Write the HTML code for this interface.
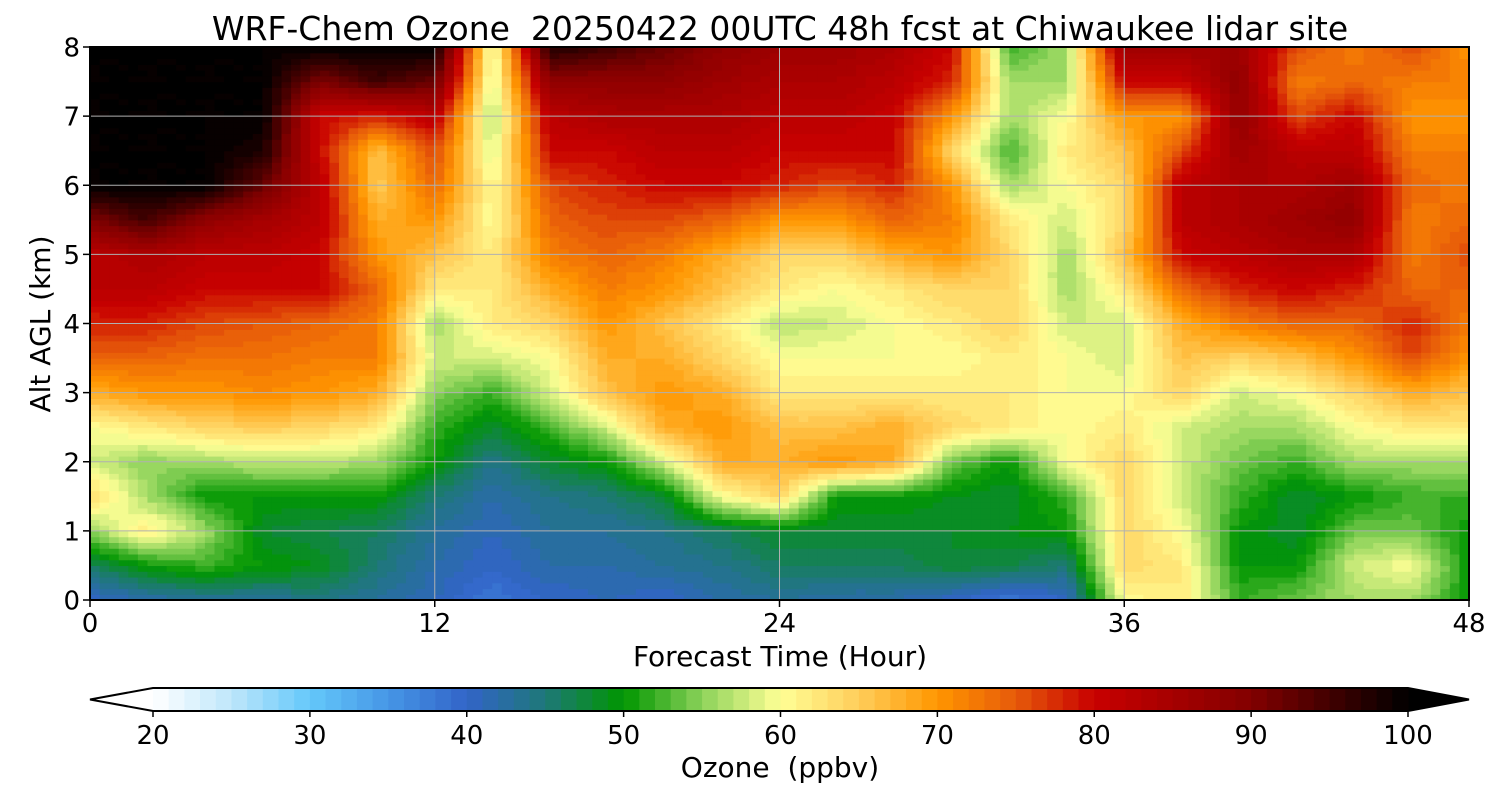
<!DOCTYPE html>
<html><head><meta charset="utf-8">
<style>
html,body{margin:0;padding:0;background:#fff;}
svg{display:block;font-family:"DejaVu Sans","Liberation Sans",sans-serif;}
text{white-space:pre;}
</style></head>
<body>
<svg id="chart" width="1500" height="800" xmlns="http://www.w3.org/2000/svg">
<text x="780" y="40" font-size="33" text-anchor="middle" xml:space="preserve">WRF-Chem Ozone  20250422 00UTC 48h fcst at Chiwaukee lidar site</text>
<g id="cells"></g>
<g id="grid"></g>
<rect x="90" y="47" width="1379" height="553" fill="none" stroke="#000" stroke-width="2"/>
<g id="axes"></g>
<text x="780" y="666" font-size="28" text-anchor="middle">Forecast Time (Hour)</text>
<text transform="translate(50,324) rotate(-90)" font-size="28" text-anchor="middle">Alt AGL (km)</text>
<g id="cbar"></g>
<text x="780" y="777" font-size="28" text-anchor="middle" xml:space="preserve">Ozone  (ppbv)</text>
</svg>
<script>
const times = [0,2,4,6,8,10,12,14,16,18,20,22,24,26,28,30,32,34,36,38,40,42,44,46,48];
const alts = [0,0.5,1,1.5,2,2.5,3,3.5,4,4.5,5,5.5,6,6.5,7,7.5,8];
const ozone = [
[40,46,55,64,58,60,68,74,78,82,82,90,100,100,100,100,100],
[42,50,62,56,55,62,70,74,78,82,84,95,100,100,100,100,100],
[43,52,56,50,56,64,70,73,76,80,82,88,100,100,100,100,100],
[43,50,48,50,57,65,71,73,75,80,82,85,92,98,100,100,100],
[44,49,47,50,57,64,70,72,74,80,80,82,82,80,80,90,100],
[43,45,46,50,56,62,68,72,72,74,70,68,65,66,78,95,100],
[41,42,43,45,50,52,55,58,56,62,66,70,74,76,82,92,100],
[38,40,41,42,44,48,52,58,62,62,62,60,60,58,56,58,58],
[40,42,43,44,48,52,58,60,64,68,72,74,76,80,82,88,98],
[41,42,43,45,50,58,66,68,70,72,74,76,78,80,84,88,95],
[40,43,44,48,58,68,70,68,66,70,72,76,80,82,84,88,92],
[42,44,46,60,68,70,68,64,62,66,68,74,80,82,84,86,88],
[43,46,48,64,68,66,62,60,57,62,64,70,78,80,82,84,86],
[42,46,48,50,70,66,62,60,58,60,64,70,76,80,82,84,86],
[42,46,48,50,68,68,62,60,60,62,68,74,78,80,80,82,84],
[40,48,48,49,54,64,62,60,62,64,70,72,70,64,70,78,80],
[38,47,49,48,50,62,62,62,64,64,64,62,56,52,56,56,52],
[40,45,50,52,60,60,60,60,58,56,56,58,60,62,60,56,56],
[60,64,64,64,64,62,60,58,58,62,66,64,64,66,70,80,86],
[62,62,60,58,58,58,64,66,68,74,80,82,82,76,70,80,86],
[52,50,50,52,54,56,58,64,72,78,82,84,84,86,88,88,86],
[54,50,48,48,52,56,60,66,74,80,84,86,84,82,76,72,76],
[56,58,54,50,56,60,64,70,74,78,84,88,86,82,80,74,72],
[56,60,54,52,56,62,68,76,78,74,72,72,74,72,70,72,76],
[50,50,50,52,56,62,66,70,72,74,76,74,72,72,70,72,70]
];
const cbarTicks = [20,30,40,50,60,70,80,90,100];
const xTicks = [0,12,24,36,48];
const yTicks = [0,1,2,3,4,5,6,7,8];

const NS="http://www.w3.org/2000/svg";
const X0=90,X1=1469,Y0=600,Y1=47;
const xs=t=>X0+(t-0)/(48-0)*(X1-X0);
const ys=a=>Y0-(a-0)/(8-0)*(Y0-Y1);
const cx=v=>153+(v-20)/80*(1408-153);
const stops=[[20,[255,255,255]],[25,[190,230,250]],[30,[100,200,250]],[35,[70,150,230]],[40,[50,100,200]],[45,[30,120,120]],[50,[0,150,0]],[55,[140,210,90]],[60,[255,255,150]],[65,[255,205,90]],[70,[255,150,0]],[75,[230,90,10]],[80,[200,0,0]],[90,[130,0,0]],[100,[0,0,0]]];
function color(v){
  v=Math.max(20,Math.min(100,Math.floor(v)+0.5));
  for(let i=0;i<stops.length-1;i++){
    const [a,ca]=stops[i],[b,cb]=stops[i+1];
    if(v<=b){const f=(v-a)/(b-a);return `rgb(${ca.map((c,k)=>Math.round(c+(cb[k]-c)*f)).join(',')})`;}
  }
  return 'rgb(0,0,0)';
}
function mk(tag,attrs,parent){const e=document.createElementNS(NS,tag);for(const k in attrs)e.setAttribute(k,attrs[k]);parent.appendChild(e);return e;}
const cells=document.getElementById('cells');
const S=6;
for(let i=0;i<times.length-1;i++){
  for(let j=0;j<alts.length-1;j++){
    for(let a=0;a<S;a++)for(let b=0;b<S;b++){
      const fx=(a+0.5)/S,fy=(b+0.5)/S;
      const v=ozone[i][j]*(1-fx)*(1-fy)+ozone[i+1][j]*fx*(1-fy)+ozone[i][j+1]*(1-fx)*fy+ozone[i+1][j+1]*fx*fy;
      const t0=times[i]+(times[i+1]-times[i])*a/S,t1=times[i]+(times[i+1]-times[i])*(a+1)/S;
      const h0=alts[j]+(alts[j+1]-alts[j])*b/S,h1=alts[j]+(alts[j+1]-alts[j])*(b+1)/S;
      const r=mk('rect',{x:xs(t0),y:ys(h1),width:xs(t1)-xs(t0)+0.6,height:ys(h0)-ys(h1)+0.6,fill:color(v)},cells);
      
      
    }
  }
}
const grid=document.getElementById('grid'),axes=document.getElementById('axes');
xTicks.forEach(t=>{
  const l=mk('line',{x1:xs(t),x2:xs(t),y1:Y1,y2:Y0,stroke:'#b0b0b0','stroke-width':1},grid);
  
  mk('line',{x1:xs(t),x2:xs(t),y1:Y0,y2:Y0+7,stroke:'#000','stroke-width':1.5},axes);
  const tx=mk('text',{x:xs(t),y:Y0+32,'font-size':26,'text-anchor':'middle'},axes);tx.textContent=t;
  
});
yTicks.forEach(a=>{
  const l=mk('line',{x1:X0,x2:X1,y1:ys(a),y2:ys(a),stroke:'#b0b0b0','stroke-width':1},grid);
  
  mk('line',{x1:X0-7,x2:X0,y1:ys(a),y2:ys(a),stroke:'#000','stroke-width':1.5},axes);
  const tx=mk('text',{x:X0-10,y:ys(a)+9.5,'font-size':26,'text-anchor':'end'},axes);tx.textContent=a;
  
});
const cb=document.getElementById('cbar');
const CY0=688,CY1=711;
const lt=mk('polygon',{points:`90,699.5 153,${CY0} 153,${CY1}`,fill:'#fff'},cb);

const rt=mk('polygon',{points:`1408,${CY0} 1469,699.5 1408,${CY1}`,fill:'#000'},cb);

for(let v=20;v<100;v++){
  const r=mk('rect',{x:cx(v),y:CY0,width:cx(v+1)-cx(v)+0.5,height:CY1-CY0,fill:color(v)},cb);
  
}
mk('polygon',{points:`90,699.5 153,${CY0} 1408,${CY0} 1469,699.5 1408,${CY1} 153,${CY1}`,fill:'none',stroke:'#000','stroke-width':2},cb);
cbarTicks.forEach(v=>{
  mk('line',{x1:cx(v),x2:cx(v),y1:CY1,y2:CY1+6,stroke:'#000','stroke-width':1.5},cb);
  const tx=mk('text',{x:cx(v),y:CY1+33,'font-size':26,'text-anchor':'middle'},cb);tx.textContent=v;
  
});
</script>
</body></html>
